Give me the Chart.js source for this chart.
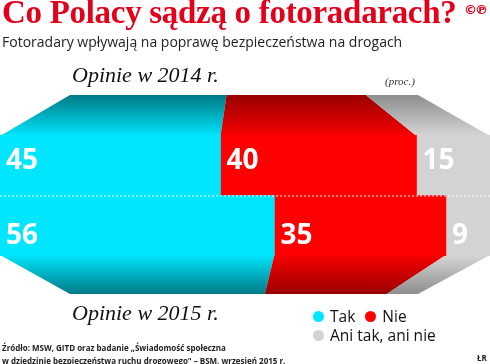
<!DOCTYPE html>
<html>
<head>
<meta charset="utf-8">
<script src="https://cdn.jsdelivr.net/npm/chart.js@4/dist/chart.umd.min.js"></script>
<style>
  body{margin:0;background:#fff;}
  #wrap{position:relative;width:490px;height:364px;overflow:hidden;background:#fff;}
  #myChart{position:absolute;left:0;top:0;}
  .txt{position:absolute;white-space:nowrap;color:#111;}
  #title{left:2px;top:-6px;font:bold 33px "Liberation Serif";color:#e3001b;letter-spacing:-0.3px;}
  #cp{left:464px;top:2px;font:bold 13px "DejaVu Sans";color:#e3001b;letter-spacing:-2px;}
  #sub{left:2px;top:32px;font:14px "Open Sans";color:#222;}
  .year{font:italic 22px "Liberation Serif";color:#111;}
  #y2014{left:72px;top:62px;}
  #y2015{left:72px;top:300px;}
  #proc{left:385px;top:75px;font:italic 11px "Liberation Serif";color:#333;}
  #legend{position:absolute;left:313px;top:307px;width:125px;display:flex;flex-wrap:wrap;font:15.5px "Open Sans";color:#111;line-height:19px;}
  #legend .it{display:flex;align-items:center;margin-right:10px;white-space:nowrap;}
  #legend .dot{width:11px;height:11px;border-radius:50%;margin-right:6px;}
  #src{left:2px;top:341px;font:bold 8px "Open Sans";color:#222;line-height:13px;}
  #lr{left:477px;top:352px;font:bold 8px "Open Sans";color:#222;}
</style>
</head>
<body>
<div id="wrap">
  <canvas id="myChart" width="490" height="364"></canvas>
  <div class="txt" id="title">Co Polacy sądzą o fotoradarach?</div>
  <div class="txt" id="cp">©℗</div>
  <div class="txt" id="sub">Fotoradary wpływają na poprawę bezpieczeństwa na drogach</div>
  <div class="txt year" id="y2014">Opinie w 2014 r.</div>
  <div class="txt" id="proc">(proc.)</div>
  <div class="txt year" id="y2015">Opinie w 2015 r.</div>
  <div id="legend"></div>
  <div class="txt" id="src">Źródło: MSW, GITD oraz badanie „Świadomość społeczna<br>w dziedzinie bezpieczeństwa ruchu drogowego" – BSM, wrzesień 2015 r.</div>
  <div class="txt" id="lr">ŁR</div>
</div>
<script>
// /////////////// data
const years = ['2014', '2015'];
const answers = ['Tak', 'Nie', 'Ani tak, ani nie'];
const tak = [45, 56];
const nie = [40, 35];
const aniTakAniNie = [15, 9];

// /////////////// colours (front, far end of the 3d face, near end of the 3d face)
const colors = ['#00e6ff', '#ff0000', '#d3d3d3'];
const farColors = ['#007a86', '#980000', '#8e8e8e'];
const nearColors = ['#00e4fb', '#f80000', '#d5d5d5'];
const labelShift = [-4, 10];

// /////////////// legend
const legend = document.getElementById('legend');
answers.forEach((name, i) => {
    const it = document.createElement('div');
    it.className = 'it';
    it.innerHTML = '<span class="dot" style="background:' + colors[i] + '"></span>' + name;
    legend.appendChild(it);
});

// /////////////// perspective faces above 2014 and below 2015
const perspective = {
    id: 'perspective',
    beforeDatasetsDraw(chart) {
        const ctx = chart.ctx;
        const xs = chart.scales.x;
        const a = chart.chartArea;
        const squeeze = px => a.left + 70 + (px - a.left) * (a.width - 142) / a.width;
        const face = (row, yFar, yNear) => {
            let start = 0;
            chart.data.datasets.forEach((ds, i) => {
                const end = start + ds.data[row];
                const n0 = xs.getPixelForValue(start);
                const n1 = xs.getPixelForValue(end);
                const g = ctx.createLinearGradient(0, yFar, 0, yNear);
                g.addColorStop(0, farColors[i]);
                g.addColorStop(1, nearColors[i]);
                ctx.fillStyle = g;
                ctx.beginPath();
                ctx.moveTo(n0, yNear);
                ctx.lineTo(n1, yNear);
                ctx.lineTo(squeeze(n1), yFar);
                ctx.lineTo(squeeze(n0), yFar);
                ctx.closePath();
                ctx.fill();
                start = end;
            });
        };
        ctx.save();
        face(0, a.top - 40, a.top + 1);
        face(1, a.bottom + 38, a.bottom - 1);
        ctx.restore();
    },
    afterDatasetsDraw(chart) {
        const ctx = chart.ctx;
        const a = chart.chartArea;
        const ys = chart.scales.y;
        ctx.save();
        // dotted line between the years
        const mid = (ys.getPixelForValue(0) + ys.getPixelForValue(1)) / 2;
        ctx.strokeStyle = 'rgba(255,255,255,0.9)';
        ctx.lineWidth = 1;
        ctx.setLineDash([2, 2]);
        ctx.beginPath();
        ctx.moveTo(a.left, mid + 0.5);
        ctx.lineTo(a.right, mid + 0.5);
        ctx.stroke();
        // values
        ctx.setLineDash([]);
        ctx.fillStyle = '#fff';
        ctx.font = 'bold 28px "Open Sans"';
        ctx.textBaseline = 'middle';
        chart.data.datasets.forEach((ds, i) => {
            chart.getDatasetMeta(i).data.forEach((bar, j) => {
                ctx.fillText(ds.data[j], Math.min(bar.base, bar.x) + 6, bar.y + labelShift[j]);
            });
        });
        ctx.restore();
    }
};

var ctx = document.getElementById('myChart').getContext('2d');
var myChart = new Chart(ctx, {
    type: 'bar',
    data: {
        labels: years,
        datasets: [
            { label: answers[0], data: tak, backgroundColor: colors[0] },
            { label: answers[1], data: nie, backgroundColor: colors[1] },
            { label: answers[2], data: aniTakAniNie, backgroundColor: colors[2] }
        ]
    },
    options: {
        indexAxis: 'y',
        responsive: false,
        animation: false,
        layout: { padding: { top: 135, bottom: 108, left: 0, right: 0 } },
        datasets: { bar: { barPercentage: 1, categoryPercentage: 1, borderWidth: 0 } },
        scales: {
            x: { stacked: true, min: 0, max: 100, display: false },
            y: { stacked: true, display: false }
        },
        plugins: { legend: { display: false }, tooltip: { enabled: false } }
    },
    plugins: [perspective]
});
</script>
</body>
</html>
